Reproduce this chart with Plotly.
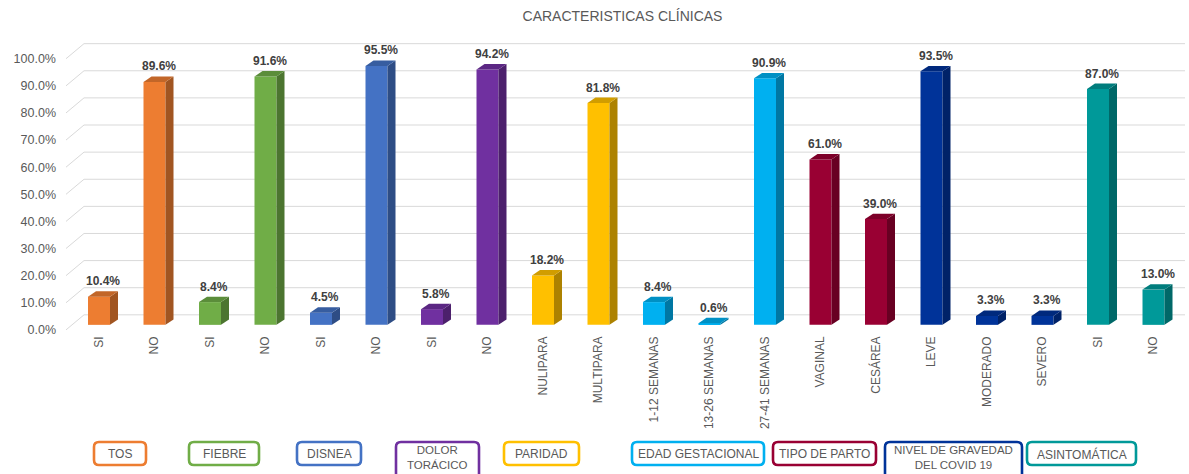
import plotly.graph_objects as go

# ---------------- data ----------------
categories = ["SI", "NO", "SI", "NO", "SI", "NO", "SI", "NO",
              "NULIPARA", "MULTIPARA",
              "1-12 SEMANAS", "13-26 SEMANAS", "27-41 SEMANAS",
              "VAGINAL", "CESÁREA",
              "LEVE", "MODERADO", "SEVERO",
              "SI", "NO"]
values = [10.4, 89.6, 8.4, 91.6, 4.5, 95.5, 5.8, 94.2,
          18.2, 81.8,
          8.4, 0.6, 90.9,
          61.0, 39.0,
          93.5, 3.3, 3.3,
          87.0, 13.0]
groups = ["TOS", "FIEBRE", "DISNEA", "DOLOR<br>TORÁCICO", "PARIDAD",
          "EDAD GESTACIONAL", "TIPO DE PARTO", "NIVEL DE GRAVEDAD<br>DEL COVID 19",
          "ASINTOMÁTICA"]
group_sizes = [2, 2, 2, 2, 2, 3, 2, 3, 2]
y_ticks = list(range(0, 101, 10))
y_ticktext = [f"{t:.1f}%" for t in y_ticks]

# ---------------- style ----------------
group_colors = ["#ED7D31", "#70AD47", "#4472C4", "#7030A0", "#FFC000",
                "#00B0F0", "#990033", "#003399", "#009999"]
# group label boxes (pixel extents: x0, x1, y0, y1)
box_px = [(94, 146, 442, 465), (189, 259, 442, 465), (297, 361, 442, 465),
          (396, 479, 442, 484), (504, 579, 442, 465), (632, 764, 442, 465),
          (773, 876, 442, 465), (885, 1022, 442, 484), (1027, 1136, 442, 465)]

W, H = 1189, 474
L, R, T, B = 60, 4, 32, 141
PW, PH = W - L - R, H - T - B
STEP = 55.5                      # px per category
XR = [-39 / STEP, -39 / STEP + PW / STEP]
YR = [-3, 108]
BW = 22 / STEP      # bar width (category units)
DX = 8 / STEP       # depth x (category units)
DY = 2.0            # depth y (% units)
GDY = 3.7           # back wall offset
FDY = -1.85         # front floor edge offset
XB, XF = (84 - 99) / STEP, (66 - 99) / STEP


def shade(hexc, f):
    hexc = hexc.lstrip("#")
    r, g, b = (int(hexc[i:i + 2], 16) for i in (0, 2, 4))
    return "#%02X%02X%02X" % (int(r * f), int(g * f), int(b * f))


bar_colors = []
for c, n in zip(group_colors, group_sizes):
    bar_colors += [c] * n

xs = list(range(len(values)))

fig = go.Figure()
fig.add_trace(go.Bar(x=xs, y=values, width=BW, marker=dict(color=bar_colors, line=dict(width=0)),
                     hovertemplate="%{y:.1f}%<extra></extra>"))

shapes = []
# back wall gridlines
for v in y_ticks:
    shapes.append(dict(type="line", xref="x", yref="y", x0=XB, x1=XR[1] + 1, y0=v + GDY, y1=v + GDY,
                       line=dict(color="#D9D9D9", width=1), layer="below"))
    shapes.append(dict(type="line", xref="x", yref="y", x0=XF, x1=XB, y0=v + FDY, y1=v + GDY,
                       line=dict(color="#D9D9D9", width=1), layer="below"))

annotations = []
for i, (v, c) in enumerate(zip(values, bar_colors)):
    xr = i + BW / 2
    xl = i - BW / 2
    side = shade(c, 0.68)
    top = shade(c, 0.82)
    shapes.append(dict(type="path", xref="x", yref="y",
                       path=f"M{xr},0 L{xr + DX},{DY} L{xr + DX},{v + DY} L{xr},{v} Z",
                       fillcolor=side, line=dict(width=0), layer="above"))
    shapes.append(dict(type="path", xref="x", yref="y",
                       path=f"M{xl},{v} L{xl + DX},{v + DY} L{xr + DX},{v + DY} L{xr},{v} Z",
                       fillcolor=top, line=dict(width=0), layer="above"))
    annotations.append(dict(x=i + DX / 2, y=v + DY, xref="x", yref="y", text=f"<b>{v:.1f}%</b>",
                            showarrow=False, yanchor="bottom", yshift=1,
                            font=dict(size=12, color="#404040", family="Liberation Sans, Arial")))


def px2paper(px, py):
    return (px - L) / PW, (H - B - py) / PH


for g, c, (x0, x1, y0, y1) in zip(groups, group_colors, box_px):
    r = 5
    ax0, ay1 = px2paper(x0, y0)
    ax1, ay0 = px2paper(x1, y1)
    rx, ry = r / PW, r / PH
    path = (f"M{ax0 + rx},{ay1} L{ax1 - rx},{ay1} Q{ax1},{ay1} {ax1},{ay1 - ry} "
            f"L{ax1},{ay0 + ry} Q{ax1},{ay0} {ax1 - rx},{ay0} L{ax0 + rx},{ay0} "
            f"Q{ax0},{ay0} {ax0},{ay0 + ry} L{ax0},{ay1 - ry} Q{ax0},{ay1} {ax0 + rx},{ay1} Z")
    shapes.append(dict(type="path", xref="paper", yref="paper", path=path,
                       fillcolor="white", line=dict(color=c, width=2.6), layer="above"))
    two = "<br>" in g
    cx, cy = px2paper((x0 + x1) / 2, y0 + (0 if two else 3))
    annotations.append(dict(x=cx, y=cy, xref="paper", yref="paper", text=g, showarrow=False,
                            xanchor="center", yanchor="top", align="center",
                            font=dict(size=11.5 if two else 12, color="#595959",
                                      family="Liberation Sans, Arial")))

fig.update_layout(
    width=W, height=H,
    margin=dict(l=L, r=R, t=T, b=B),
    paper_bgcolor="white", plot_bgcolor="white",
    title=dict(text="CARACTERISTICAS CLÍNICAS", x=0.5, xref="paper", y=1 - 16 / H, yanchor="middle",
               font=dict(size=14, color="#595959", family="Liberation Sans, Arial")),
    showlegend=False,
    shapes=shapes,
    annotations=annotations,
    xaxis=dict(range=XR, tickmode="array", tickvals=xs, ticktext=categories, tickangle=-90,
               showgrid=False, zeroline=False, showline=False, ticks="",
               tickfont=dict(size=12, color="#595959", family="Liberation Sans, Arial")),
    yaxis=dict(range=YR, tickmode="array", tickvals=y_ticks, ticktext=y_ticktext,
               showgrid=False, zeroline=False, showline=False, ticks="", ticklabelshift=5,
               ticklabelstandoff=3,
               tickfont=dict(size=12.5, color="#595959", family="Liberation Sans, Arial")),
)

fig.write_html("out.html")
